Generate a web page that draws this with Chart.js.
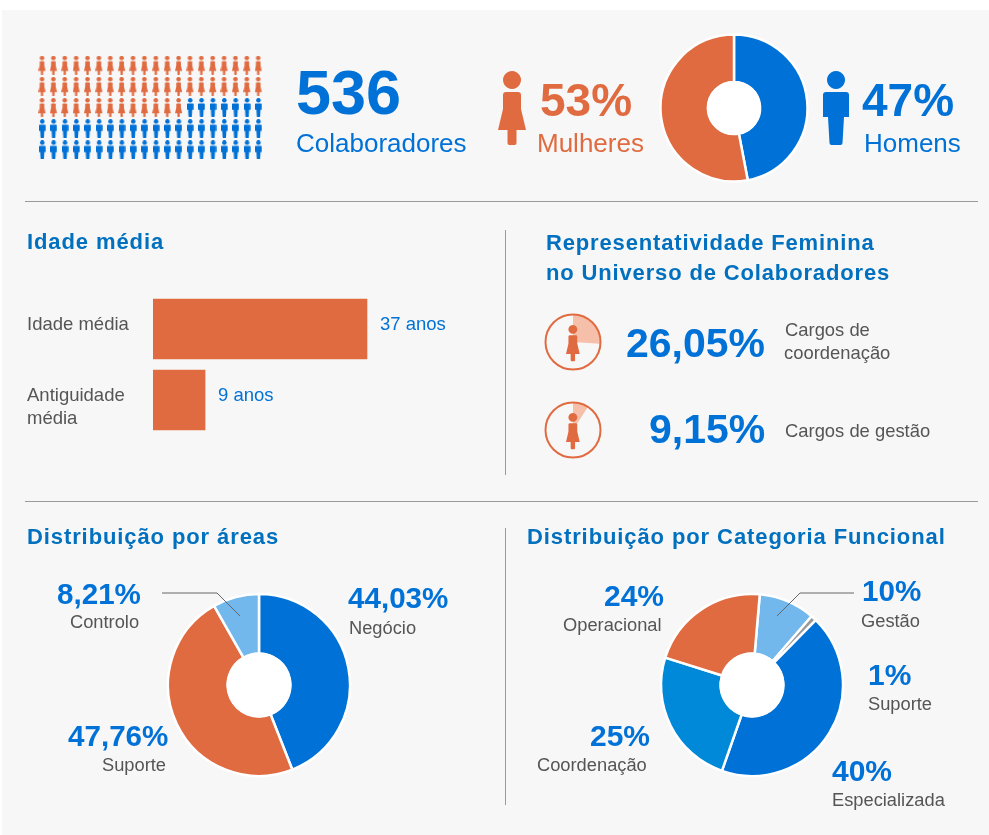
<!DOCTYPE html>
<html lang="pt">
<head>
<meta charset="utf-8">
<title>Colaboradores</title>
<script src="https://cdn.jsdelivr.net/npm/chart.js@4"></script>
<style>
    html, body { margin: 0; padding: 0; background: #fff; }
    #page { position: relative; width: 989px; height: 835px; overflow: hidden; }
    #panel { position: absolute; left: 2px; top: 10px; width: 987px; height: 825px; background: #f7f7f7; }
    #page canvas { position: absolute; }
    #overlay { position: absolute; left: 0; top: 0; pointer-events: none; }
    .t { position: absolute; white-space: nowrap; line-height: 1; font-family: "Liberation Sans", Arial, sans-serif; }
    .rule { position: absolute; background: #9a9a9a; }
</style>
</head>
<body>
<div id="page">
    <div id="panel"></div>
    <div class="rule" style="left:25px;top:201px;width:953px;height:1px"></div>
    <div class="rule" style="left:25px;top:501px;width:953px;height:1px"></div>
    <div class="rule" style="left:505px;top:230px;width:1px;height:245px"></div>
    <div class="rule" style="left:505px;top:528px;width:1px;height:277px"></div>

    <canvas id="chartPessoas" width="239" height="127" style="left:31px;top:44px"></canvas>
    <canvas id="chartGenero" width="156" height="156" style="left:656px;top:30px"></canvas>
    <canvas id="chartIdade" width="473" height="143" style="left:27px;top:293px"></canvas>
    <canvas id="chartCoordenacao" width="60" height="60" style="left:543px;top:312px"></canvas>
    <canvas id="chartGestao" width="60" height="60" style="left:543px;top:400px"></canvas>
    <canvas id="chartAreas" width="190" height="190" style="left:164px;top:590px"></canvas>
    <canvas id="chartCategoria" width="190" height="190" style="left:657px;top:590px"></canvas>

    <svg id="overlay" width="989" height="835" viewBox="0 0 989 835">
        <defs>
            <path id="mulher" d="M5 24Q5 21 8 21H20Q23 21 23 24V38L28 59H18.5V72Q18.5 74 16.5 74H11.5Q9.5 74 9.5 72V59H0L5 38Z M14 0a9 9 0 1 0 .01 0Z"/>
            <path id="homem" d="M0 24Q0 21 3 21H23Q26 21 26 24V46H21L19.5 72Q19.4 74 17.5 74H8.5Q6.6 74 6.5 72L5 46H0Z M13 0a9 9 0 1 0 .01 0Z"/>
        </defs>
        <use href="#mulher" x="498" y="71" fill="#e16b40"/>
        <use href="#homem" x="823" y="71" fill="#0071d6"/>
        <use href="#mulher" transform="translate(566 325) scale(.49)" fill="#e16b40"/>
        <use href="#mulher" transform="translate(566 413) scale(.49)" fill="#e16b40"/>
        <polyline points="162,593 217,593 240,616" fill="none" stroke="#666" stroke-width="1"/>
        <polyline points="854,593 800,593 777,616" fill="none" stroke="#666" stroke-width="1"/>
    </svg>
</div>

<script>
// cores
const AZUL = '#0071d6';
const AZUL_TITULO = '#0070bf';
const AZUL_MEDIO = '#0089d9';
const AZUL_CLARO = '#72b8ec';
const LARANJA = '#e16b40';
const LARANJA_CLARO = '#f5bfaa';
const CINZA = '#999999';
const CINZA_TEXTO = '#555555';

// pictograma: cada ícone = 1%
const mulheresPorLinha = [20, 20, 13, 0, 0];
const homensPorLinha = [0, 0, 7, 20, 20];

const generoLabels = ['Homens', 'Mulheres'];
const generoValores = [47, 53];

const idadeLabels = [['Idade média'], ['Antiguidade', 'média']];
const idadeValores = [37, 9];

const coordenacaoValores = [26.05, 73.95];
const gestaoValores = [9.15, 90.85];

const areasLabels = ['Negócio', 'Suporte', 'Controlo'];
const areasValores = [44.03, 47.76, 8.21];

// fatias lidas do desenho, não batem com os rótulos impressos
const categoriaLabels = ['Gestão', 'Suporte', 'Especializada', 'Coordenação', 'Operacional'];
const categoriaValores = [10, 1, 43, 24.5, 21.5];

const FONT = '"Liberation Sans", Arial, sans-serif';

function texto(str, x, baseline, size, color, bold, spacing) {
    const el = document.createElement('div');
    el.className = 't';
    el.textContent = str;
    el.style.left = x + 'px';
    el.style.top = (baseline - size * 0.8465) + 'px';
    el.style.fontSize = size + 'px';
    el.style.color = color;
    if (bold) el.style.fontWeight = 'bold';
    if (spacing) el.style.letterSpacing = spacing + 'px';
    document.getElementById('page').appendChild(el);
}

function initTextos() {
    texto('536', 296, 114, 63, AZUL, true);
    texto('Colaboradores', 296, 152, 26, AZUL);
    texto('53%', 540, 116, 46, LARANJA, true);
    texto('Mulheres', 537, 152, 26, LARANJA);
    texto('47%', 862, 116, 46, AZUL, true);
    texto('Homens', 864, 152, 26, AZUL);

    texto('Idade média', 27, 250, 22, AZUL_TITULO, true, 0.9);
    texto('Representatividade Feminina', 546, 251, 22, AZUL_TITULO, true, 0.85);
    texto('no Universo de Colaboradores', 546, 281, 22, AZUL_TITULO, true, 0.85);
    texto('26,05%', 626, 358, 41, AZUL, true);
    texto('Cargos de', 785, 337, 18.4, CINZA_TEXTO);
    texto('coordenação', 784, 360, 18.4, CINZA_TEXTO);
    texto('9,15%', 649, 444, 41, AZUL, true);
    texto('Cargos de gestão', 785, 438, 18.4, CINZA_TEXTO);

    texto('Distribuição por áreas', 27, 545, 22, AZUL_TITULO, true, 0.9);
    texto('Distribuição por Categoria Funcional', 527, 545, 22, AZUL_TITULO, true, 0.9);

    texto('8,21%', 57, 604, 29.6, AZUL, true);
    texto('Controlo', 70, 628, 18.3, CINZA_TEXTO);
    texto('44,03%', 348, 608, 29.6, AZUL, true);
    texto('Negócio', 349, 634, 18.3, CINZA_TEXTO);
    texto('47,76%', 68, 746, 29.6, AZUL, true);
    texto('Suporte', 102, 771, 18.3, CINZA_TEXTO);

    texto('24%', 604, 606, 30, AZUL, true);
    texto('Operacional', 563, 631, 18.3, CINZA_TEXTO);
    texto('10%', 862, 601, 29.6, AZUL, true);
    texto('Gestão', 861, 627, 18.3, CINZA_TEXTO);
    texto('1%', 868, 685, 30, AZUL, true);
    texto('Suporte', 868, 710, 18.3, CINZA_TEXTO);
    texto('25%', 590, 746, 30, AZUL, true);
    texto('Coordenação', 537, 771, 18.3, CINZA_TEXTO);
    texto('40%', 832, 781, 30, AZUL, true);
    texto('Especializada', 832, 806, 18.3, CINZA_TEXTO);
}

function iconePonto(pathStr, larguraBase, color) {
    const c = document.createElement('canvas');
    c.width = Math.ceil(larguraBase * 0.2568);
    c.height = 19;
    const ctx = c.getContext('2d');
    ctx.scale(0.2568, 0.2568);
    ctx.fillStyle = color;
    ctx.fill(new Path2D(pathStr));
    return c;
}

function pontosPorLinha(contagem, inicio) {
    const pontos = [];
    contagem.forEach(function (n, linha) {
        const primeira = inicio[linha];
        for (let i = 0; i < n; i++) pontos.push({ x: primeira + i, y: linha });
    });
    return pontos;
}

function initPessoas() {
    const pathMulher = document.getElementById('mulher').getAttribute('d');
    const pathHomem = document.getElementById('homem').getAttribute('d');
    new Chart(document.getElementById('chartPessoas'), {
        type: 'scatter',
        data: {
            datasets: [{
                data: pontosPorLinha(mulheresPorLinha, [0, 0, 0, 0, 0]),
                pointStyle: iconePonto(pathMulher, 28, LARANJA),
                pointRadius: 5,
            }, {
                data: pontosPorLinha(homensPorLinha, mulheresPorLinha),
                pointStyle: iconePonto(pathHomem, 26, AZUL),
                pointRadius: 5,
            }],
        },
        options: {
            responsive: false,
            animation: false,
            layout: { autoPadding: false },
            plugins: { legend: { display: false }, tooltip: { enabled: false } },
            scales: {
                x: { display: false, min: -1, max: 20 },
                y: { display: false, min: -1, max: 5, reverse: true },
            },
        },
    });
}

// o furo do anel é branco, o fundo do painel não
const furoBranco = {
    id: 'furoBranco',
    afterDatasetsDraw: function (chart) {
        const arc = chart.getDatasetMeta(0).data[0];
        const ctx = chart.ctx;
        ctx.save();
        ctx.fillStyle = '#ffffff';
        ctx.beginPath();
        ctx.arc(arc.x, arc.y, arc.innerRadius + 1, 0, Math.PI * 2);
        ctx.fill();
        ctx.restore();
    },
};

function initAnel(canvasId, labels, values, colors, raio, furo, rotacao) {
    new Chart(document.getElementById(canvasId), {
        type: 'doughnut',
        data: {
            labels: labels,
            datasets: [{
                data: values,
                backgroundColor: colors,
                borderColor: '#ffffff',
                borderWidth: 2.5,
                hoverOffset: 0,
            }],
        },
        options: {
            responsive: false,
            animation: false,
            radius: raio,
            cutout: furo,
            rotation: rotacao || 0,
            plugins: { legend: { display: false }, tooltip: { enabled: false } },
        },
        plugins: [furoBranco],
    });
}

// círculo laranja em volta da fatia clara
const aroLaranja = {
    id: 'aroLaranja',
    afterDatasetsDraw: function (chart) {
        const arc = chart.getDatasetMeta(0).data[0];
        const ctx = chart.ctx;
        ctx.save();
        ctx.strokeStyle = LARANJA;
        ctx.lineWidth = 2;
        ctx.beginPath();
        ctx.arc(arc.x, arc.y, 27.5, 0, Math.PI * 2);
        ctx.stroke();
        ctx.restore();
    },
};

function initMiniPizza(canvasId, values) {
    new Chart(document.getElementById(canvasId), {
        type: 'pie',
        data: {
            datasets: [{
                data: values,
                backgroundColor: [LARANJA_CLARO, 'rgba(0,0,0,0)'],
                borderWidth: 0,
                hoverOffset: 0,
            }],
        },
        options: {
            responsive: false,
            animation: false,
            radius: 27,
            plugins: { legend: { display: false }, tooltip: { enabled: false } },
        },
        plugins: [aroLaranja],
    });
}

// rótulos das barras: categoria à esquerda, valor à direita
const rotulosIdade = {
    id: 'rotulosIdade',
    afterDatasetsDraw: function (chart) {
        const ctx = chart.ctx;
        ctx.save();
        ctx.font = '18.5px ' + FONT;
        ctx.textBaseline = 'alphabetic';
        chart.getDatasetMeta(0).data.forEach(function (bar, i) {
            ctx.fillStyle = CINZA_TEXTO;
            idadeLabels[i].forEach(function (linha, n) {
                ctx.fillText(linha, 0, bar.y + 1 + n * 23);
            });
            ctx.fillStyle = AZUL;
            ctx.fillText(idadeValores[i] + ' anos', bar.x + 13, bar.y + 1);
        });
        ctx.restore();
    },
};

function initIdade() {
    new Chart(document.getElementById('chartIdade'), {
        type: 'bar',
        data: {
            labels: idadeLabels,
            datasets: [{
                data: idadeValores,
                backgroundColor: LARANJA,
                borderWidth: 0,
                barThickness: 60,
            }],
        },
        options: {
            indexAxis: 'y',
            responsive: false,
            animation: false,
            layout: { padding: { top: 0.5, bottom: 0.5 } },
            plugins: { legend: { display: false }, tooltip: { enabled: false } },
            scales: {
                x: { display: false, min: 0, max: 60 },
                y: {
                    afterFit: function (scale) { scale.width = 126; },
                    grid: { display: false },
                    border: { display: false },
                    ticks: { display: false },
                },
            },
        },
        plugins: [rotulosIdade],
    });
}

document.addEventListener('DOMContentLoaded', function () {
    initTextos();
    initPessoas();
    initAnel('chartGenero', generoLabels, generoValores, [AZUL, LARANJA], 73.5, '35.5%');
    initIdade();
    initMiniPizza('chartCoordenacao', coordenacaoValores);
    initMiniPizza('chartGestao', gestaoValores);
    initAnel('chartAreas', areasLabels, areasValores, [AZUL, LARANJA, AZUL_CLARO], 91, '34.5%');
    initAnel('chartCategoria', categoriaLabels, categoriaValores, [AZUL_CLARO, CINZA, AZUL, AZUL_MEDIO, LARANJA], 91, '34.5%', 4.9);
});
</script>
</body>
</html>
